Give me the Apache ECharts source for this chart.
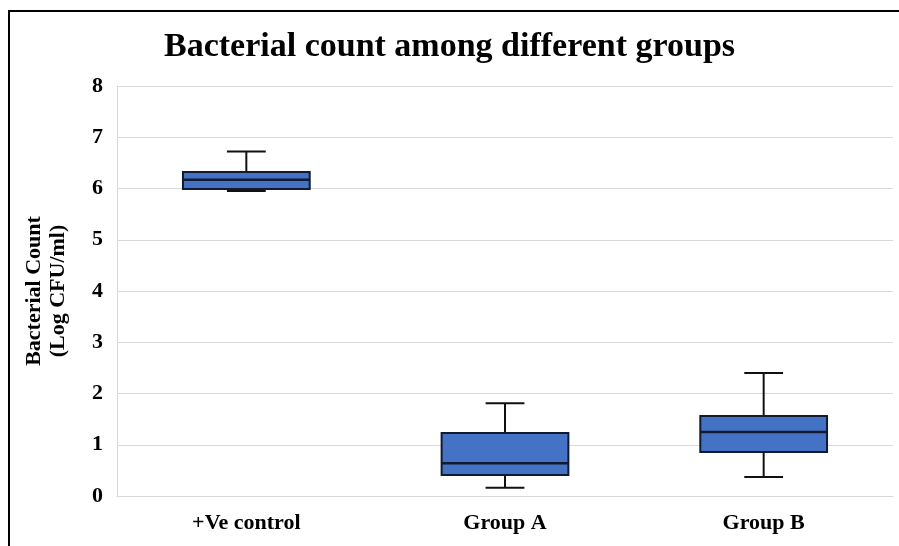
<!DOCTYPE html>
<html>
<head>
<meta charset="utf-8">
<script src="https://cdn.jsdelivr.net/npm/echarts@6/dist/echarts.min.js"></script>
<style>
  html, body { margin: 0; padding: 0; background: #fff; }
  #box1 { width: 899px; height: 546px; }
</style>
</head>
<body>
<div id="box1"></div>
<script>
// data
var categories = ['+Ve control', 'Group A', 'Group B'];
var minVals = [5.95, 0.16, 0.37];
var q1Vals = [5.99, 0.41, 0.86];
var medianVals = [6.17, 0.64, 1.25];
var q3Vals = [6.32, 1.23, 1.56];
var maxVals = [6.72, 1.81, 2.40];

var boxData = categories.map(function (c, i) {
    return [i, minVals[i], q1Vals[i], medianVals[i], q3Vals[i], maxVals[i]];
});

var serif = '"Liberation Serif", "Times New Roman", serif';

function renderBox(params, api) {
    var idx = api.value(0);
    var band = api.size([1, 0])[0];
    var boxW = band * 0.49;
    var capW = band * 0.15;
    var pMin = api.coord([idx, api.value(1)]);
    var pQ1 = api.coord([idx, api.value(2)]);
    var pMed = api.coord([idx, api.value(3)]);
    var pQ3 = api.coord([idx, api.value(4)]);
    var pMax = api.coord([idx, api.value(5)]);
    var x = pMed[0];
    var lineStyle = { stroke: '#111', lineWidth: 2 };
    return {
        type: 'group',
        children: [
            { type: 'line', shape: { x1: x, y1: pMax[1], x2: x, y2: pQ3[1] }, style: lineStyle },
            { type: 'line', shape: { x1: x - capW / 2, y1: pMax[1], x2: x + capW / 2, y2: pMax[1] }, style: lineStyle },
            { type: 'line', shape: { x1: x, y1: pMin[1], x2: x, y2: pQ1[1] }, style: lineStyle },
            { type: 'line', shape: { x1: x - capW / 2, y1: pMin[1], x2: x + capW / 2, y2: pMin[1] }, style: lineStyle },
            {
                type: 'rect',
                shape: { x: x - boxW / 2, y: pQ3[1], width: boxW, height: pQ1[1] - pQ3[1] },
                style: { fill: '#4472C4', stroke: '#111a2e', lineWidth: 2 }
            },
            { type: 'line', shape: { x1: x - boxW / 2, y1: pMed[1], x2: x + boxW / 2, y2: pMed[1] }, style: { stroke: '#111a2e', lineWidth: 2.5 } }
        ]
    };
}

var chart = echarts.init(document.getElementById('box1'));
var option = {
    animation: false,
    backgroundColor: '#fff',
    title: {
        text: 'Bacterial count among different groups',
        left: 'center',
        top: 25,
        textStyle: { fontFamily: serif, fontWeight: 'bold', fontSize: 34, color: '#000' }
    },
    grid: { left: 117, right: 6, top: 86, bottom: 50 },
    xAxis: {
        type: 'category',
        data: categories,
        axisLine: { lineStyle: { color: '#d9d9d9', width: 1 } },
        axisTick: { show: false },
        axisLabel: { fontFamily: serif, fontWeight: 'bold', fontSize: 22, color: '#000', margin: 16 }
    },
    yAxis: {
        type: 'value',
        min: 0,
        max: 8,
        interval: 1,
        name: 'Bacterial Count\n(Log CFU/ml)',
        nameLocation: 'middle',
        nameGap: 47,
        nameTextStyle: { fontFamily: serif, fontWeight: 'bold', fontSize: 22, color: '#000', lineHeight: 24 },
        axisLine: { show: true, lineStyle: { color: '#d9d9d9', width: 1 } },
        axisTick: { show: false },
        axisLabel: { fontFamily: serif, fontWeight: 'bold', fontSize: 22, color: '#000', margin: 14 },
        splitLine: { lineStyle: { color: '#d9d9d9', width: 1 } }
    },
    series: [{
        type: 'custom',
        renderItem: renderBox,
        encode: { x: 0, y: [1, 2, 3, 4, 5] },
        data: boxData
    }],
    graphic: [{
        type: 'polyline',
        shape: { points: [[9, 546], [9, 11], [899, 11]] },
        style: { stroke: '#000', lineWidth: 2, fill: null }
    }]
};
chart.setOption(option);
</script>
</body>
</html>
